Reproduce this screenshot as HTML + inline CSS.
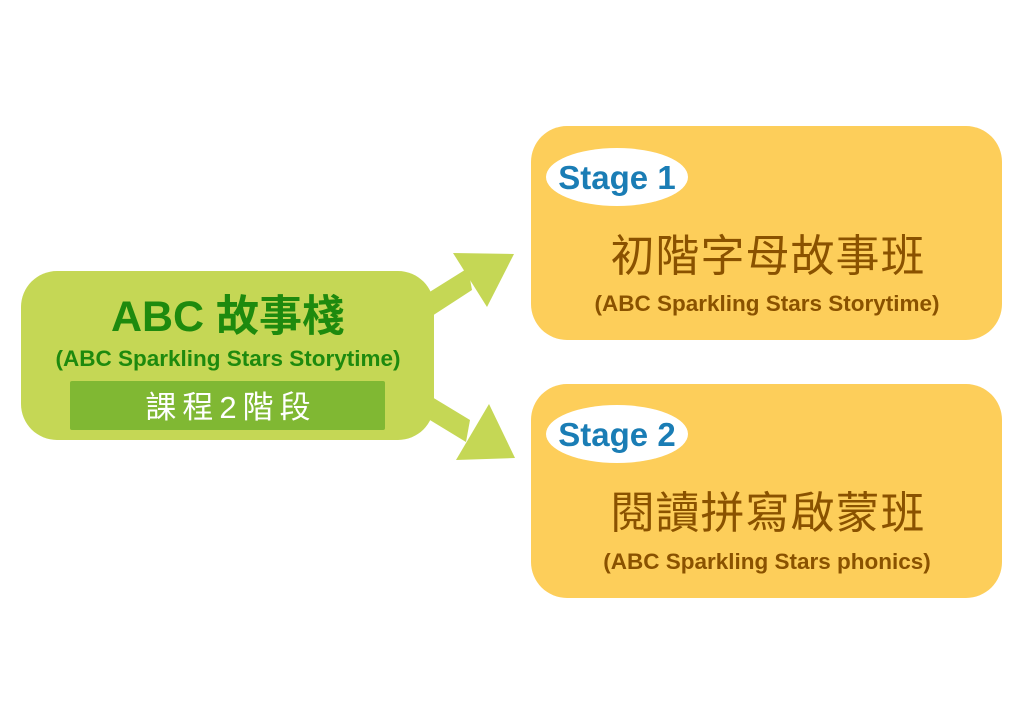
<!DOCTYPE html>
<html><head><meta charset="utf-8"><style>
html,body{margin:0;padding:0;background:#fff;width:1023px;height:723px;overflow:hidden}
svg{display:block}
text{font-family:"Liberation Sans","Noto Sans CJK TC",sans-serif}
</style></head><body>
<svg width="1023" height="723" viewBox="0 0 1023 723" xmlns="http://www.w3.org/2000/svg">
<polygon points="420,298 468,268 472,290 432,316" fill="#c5d755"/>
<polygon points="453,253 514,254 487,307" fill="#c5d755"/>
<polygon points="432,397 470,420 466,442 420,414" fill="#c5d755"/>
<polygon points="456,460 515,458 489,404" fill="#c5d755"/>
<rect x="21" y="271" width="413" height="169" rx="36" fill="#c5d755"/>
<rect x="70" y="381" width="315" height="49" rx="2" fill="#80b833"/>
<text x="228" y="331" text-anchor="middle" font-size="43" font-weight="bold" fill="#1e8a0e">ABC 故事棧</text>
<text x="228" y="366" text-anchor="middle" font-size="22.5" font-weight="bold" fill="#1e8a0e">(ABC Sparkling Stars Storytime)</text>
<text x="231" y="418" text-anchor="middle" font-size="31" fill="#fff" letter-spacing="6">課程2階段</text>
<rect x="531" y="126" width="471" height="214" rx="36" fill="#fdce5a"/>
<ellipse cx="617" cy="177" rx="71" ry="29" fill="#fff"/>
<text x="617" y="189" text-anchor="middle" font-size="33" font-weight="bold" fill="#1a7db5">Stage 1</text>
<text x="768" y="271" text-anchor="middle" font-size="44" fill="#8a5200" letter-spacing="1">初階字母故事班</text>
<text x="767" y="311" text-anchor="middle" font-size="22.5" font-weight="bold" fill="#8a5200">(ABC Sparkling Stars Storytime)</text>
<rect x="531" y="384" width="471" height="214" rx="36" fill="#fdce5a"/>
<ellipse cx="617" cy="434" rx="71" ry="29" fill="#fff"/>
<text x="617" y="446" text-anchor="middle" font-size="33" font-weight="bold" fill="#1a7db5">Stage 2</text>
<text x="768" y="528" text-anchor="middle" font-size="44" fill="#8a5200" letter-spacing="1">閱讀拼寫啟蒙班</text>
<text x="767" y="569" text-anchor="middle" font-size="22.5" font-weight="bold" fill="#8a5200">(ABC Sparkling Stars phonics)</text>
</svg>
</body></html>
